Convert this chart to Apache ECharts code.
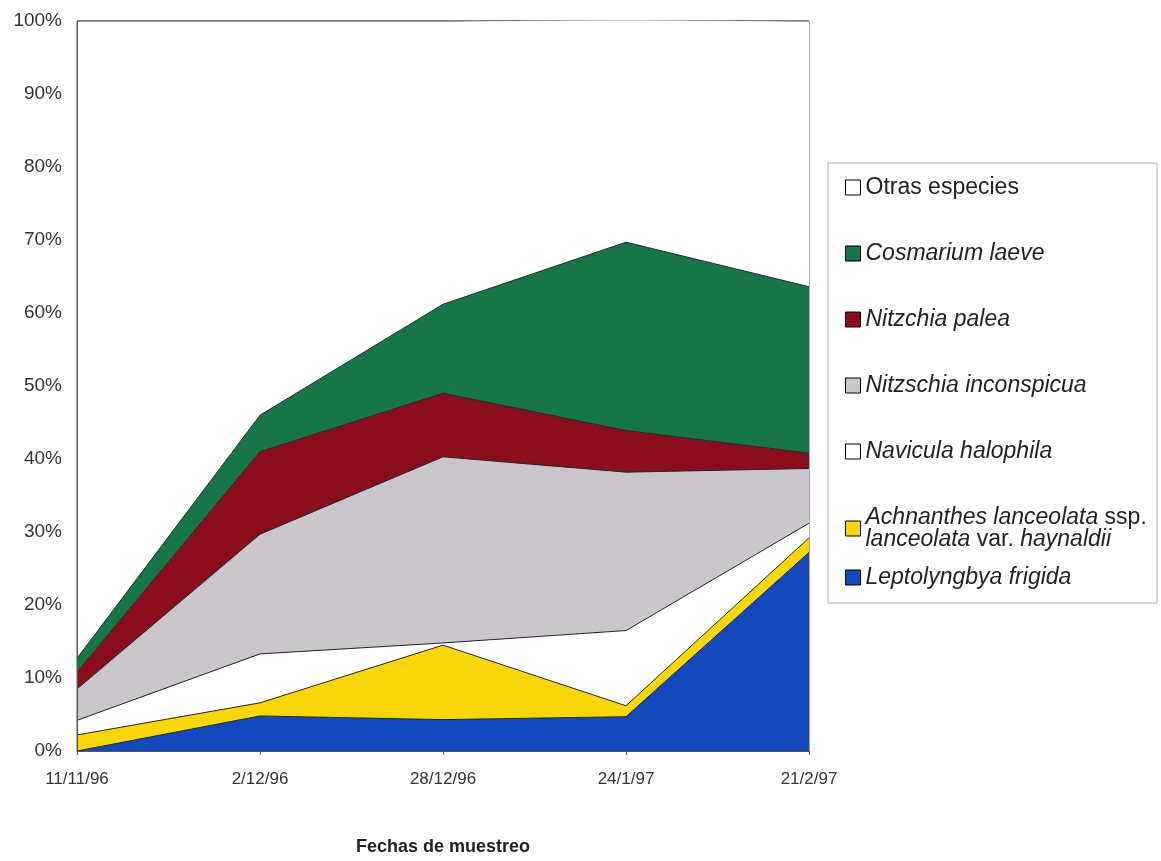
<!DOCTYPE html>
<html>
<head>
<meta charset="utf-8">
<script src="https://cdn.jsdelivr.net/npm/echarts@6/dist/echarts.min.js"></script>
<style>
html,body{margin:0;padding:0;background:#fff;overflow:hidden;}
#chart{width:1161px;height:861px;}
</style>
</head>
<body>
<div id="chart"></div>
<script>
// Categories (sampling dates)
const categories = ['11/11/96', '2/12/96', '28/12/96', '24/1/97', '21/2/97'];

// Series values (% of total, stacked bottom to top)
const leptolyngbya = [0, 4.8, 4.3, 4.7, 27.2];
const achnanthes   = [2.2, 1.8, 10.2, 1.5, 2.0];
const navicula     = [2.0, 6.7, 0.3, 10.3, 2.0];
const inconspicua  = [4.3, 16.4, 25.5, 21.7, 7.5];
const palea        = [2.3, 11.3, 8.7, 5.7, 2.1];
const cosmarium    = [1.9, 5.0, 12.2, 25.8, 22.8];
const otras        = [87.3, 54.0, 38.8, 30.5, 36.4];

const names = [
  'Leptolyngbya frigida',
  'Achnanthes lanceolata ssp. lanceolata var. haynaldii',
  'Navicula halophila',
  'Nitzschia inconspicua',
  'Nitzchia palea',
  'Cosmarium laeve',
  'Otras especies'
];
const values = [leptolyngbya, achnanthes, navicula, inconspicua, palea, cosmarium, otras];
const colors = ['#1449bd', '#f7d70a', '#ffffff', '#cbc6cb', '#8a0d1d', '#177548', '#ffffff'];

const labelRich = {
  'Leptolyngbya frigida': '{i|Leptolyngbya frigida}',
  'Achnanthes lanceolata ssp. lanceolata var. haynaldii': '{i|Achnanthes lanceolata} {n|ssp.}\n{i|lanceolata} {n|var.} {i|haynaldii}',
  'Navicula halophila': '{i|Navicula halophila}',
  'Nitzschia inconspicua': '{i|Nitzschia inconspicua}',
  'Nitzchia palea': '{i|Nitzchia palea}',
  'Cosmarium laeve': '{i|Cosmarium laeve}',
  'Otras especies': '{n|Otras especies}'
};

const FONT = '"Liberation Sans", Arial, sans-serif';

const series = names.map((n, k) => ({
  name: n,
  type: 'line',
  stack: 'total',
  data: values[k],
  symbol: 'none',
  smooth: false,
  lineStyle: { color: '#222', width: 1 },
  itemStyle: { color: colors[k], borderColor: '#000', borderWidth: 1 },
  areaStyle: { color: colors[k], opacity: 1 },
  emphasis: { disabled: true },
  z: 2
}));

const legendText = {
  color: '#222',
  fontFamily: FONT,
  fontSize: 23,
  lineHeight: 22,
  rich: {
    i: { fontStyle: 'italic', fontFamily: FONT, fontSize: 23, lineHeight: 22, color: '#222' },
    n: { fontStyle: 'normal', fontFamily: FONT, fontSize: 23, lineHeight: 22, color: '#222' }
  }
};

const chart = echarts.init(document.getElementById('chart'));
chart.setOption({
  backgroundColor: '#ffffff',
  animation: false,
  grid: {
    left: 77, top: 21, width: 732, height: 736,
    show: true, borderColor: '#555', borderWidth: 1, backgroundColor: 'transparent'
  },
  xAxis: {
    type: 'category',
    data: categories,
    boundaryGap: false,
    axisLine: { lineStyle: { color: '#555', width: 1 } },
    axisTick: { show: true, length: 4, lineStyle: { color: '#555' } },
    axisLabel: { color: '#333', fontFamily: FONT, fontSize: 17, margin: 20 },
    name: 'Fechas de muestreo',
    nameLocation: 'middle',
    nameGap: 87,
    nameTextStyle: { color: '#222', fontFamily: FONT, fontSize: 18, fontWeight: 'bold' },
    z: 5
  },
  yAxis: {
    type: 'value',
    min: 0, max: 100, interval: 10,
    axisLine: { show: true, lineStyle: { color: '#555', width: 1 } },
    axisTick: { show: false },
    splitLine: { show: false },
    axisLabel: { color: '#333', fontFamily: FONT, fontSize: 19, margin: 15, formatter: '{value}%' },
    z: 5
  },
  legend: [
    {
      orient: 'vertical',
      left: 845, top: 176,
      padding: 0,
      itemGap: 43,
      itemWidth: 15, itemHeight: 15,
      icon: 'rect',
      itemStyle: { borderColor: '#000', borderWidth: 1 },
      data: names.slice(1).reverse(),
      formatter: n => labelRich[n],
      textStyle: legendText,
      selectedMode: false
    },
    {
      orient: 'vertical',
      left: 845, top: 566,
      padding: 0,
      itemWidth: 15, itemHeight: 15,
      icon: 'rect',
      itemStyle: { borderColor: '#000', borderWidth: 1 },
      data: [names[0]],
      formatter: n => labelRich[n],
      textStyle: legendText,
      selectedMode: false
    }
  ],
  graphic: [
    {
      type: 'rect',
      shape: { x: 828, y: 163, width: 329, height: 440 },
      style: { fill: 'none', stroke: '#aaa', lineWidth: 1 },
      silent: true
    }
  ],
  series: series
});
</script>
</body>
</html>
